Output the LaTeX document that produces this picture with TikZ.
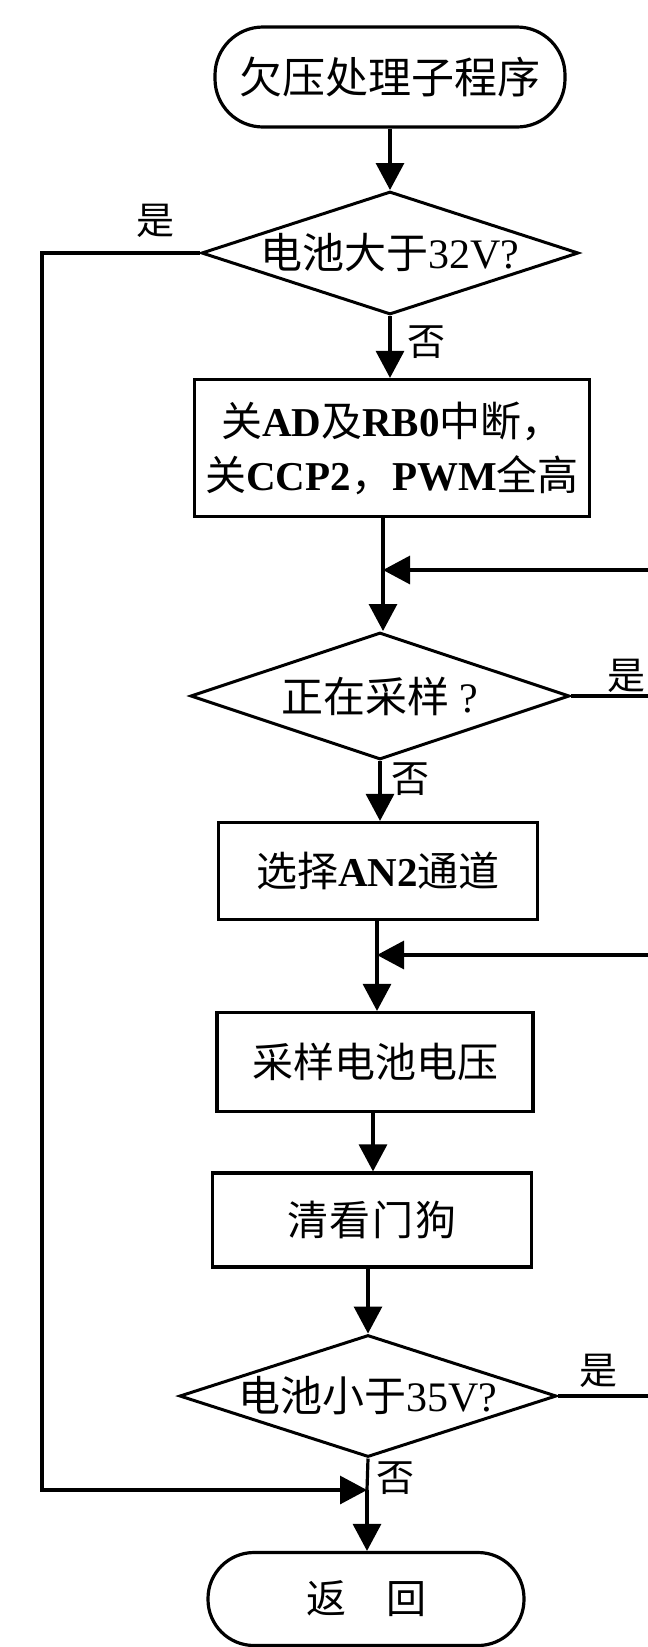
\documentclass[tikz,border=0pt]{standalone}
\usepackage{fontspec}
\setmainfont{Noto Sans CJK SC}
\newfontfamily\lat{Liberation Serif}
\usetikzlibrary{shapes.geometric,arrows.meta}
\begin{document}
\begin{tikzpicture}[x=1pt,y=-1pt,
  ln/.style={line width=3.2pt},
  arr/.style={line width=3.2pt,-{Triangle[length=27pt,width=28pt]}},
  term/.style={draw,line width=3.2pt,rectangle,inner sep=0pt},
  proc/.style={draw,line width=3.2pt,rectangle,inner sep=0pt,align=center,font=\fontsize{41}{54}\selectfont},
  dec/.style={draw,diamond,line width=3pt,inner sep=0pt},
  dtxt/.style={font=\fontsize{42}{46}\selectfont,inner sep=0pt},
  lbl/.style={font=\fontsize{38}{40}\selectfont,inner sep=0pt}]
\useasboundingbox (0,0) rectangle (648,1647);
\clip (0,0) rectangle (648,1647);
\fill[white] (0,0) rectangle (648,1647);
% nodes
\node[term,rounded corners=48pt,minimum width=350pt,minimum height=100pt,font=\fontsize{43}{46}\selectfont] (start) at (390,77) {欠压处理子程序};
\node[dec,minimum width=377pt,minimum height=123pt,label={[dtxt]center:电池大于{\lat 32V?}}] (d1) at (390,253) {};
\node[proc,minimum width=395pt,minimum height=137pt] (b1) at (392,448) {关{\lat\bfseries AD}及{\lat\bfseries RB0}中断，\\关{\lat\bfseries CCP2}，{\lat\bfseries PWM}全高};
\coordinate (m1) at (383,570);
\node[dec,minimum width=379pt,minimum height=127pt,label={[dtxt]center:正在采样{\lat~?}}] (d2) at (380,696) {};
\node[proc,minimum width=319pt,minimum height=97pt] (b2) at (378,871) {选择{\lat\bfseries AN2}通道};
\coordinate (m2) at (377,955);
\node[proc,minimum width=316pt,minimum height=99pt] (b3) at (375,1062) {采样电池电压};
\node[proc,minimum width=319pt,minimum height=94pt] (b4) at (372,1220) {清\hspace{2pt}看\hspace{2pt}门\hspace{2pt}狗};
\node[dec,minimum width=377pt,minimum height=122pt,label={[dtxt]center:电池小于{\lat 35V?}}] (d3) at (368,1396) {};
\coordinate (m3) at (367,1490);
\node[term,rounded corners=46pt,minimum width=316pt,minimum height=93pt,font=\fontsize{40}{44}\selectfont] (end) at (366,1599) {返\hspace{40pt}回};
% connectors
\draw[arr] (start.south -| d1.north) -- (d1.north);
\draw[arr] (d1.south) -- (d1.south |- b1.north);
\draw[ln] (b1.south -| m1) -- (m1);
\draw[arr] (m1) -- (m1 |- d2.north);
\draw[arr] (d2.south) -- (d2.south |- b2.north);
\draw[ln] (b2.south -| m2) -- (m2);
\draw[arr] (m2) -- (m2 |- b3.north);
\draw[arr] (b3.south -| 373,0) -- (373,0 |- b4.north);
\draw[arr] (b4.south -| d3.north) -- (d3.north);
\draw[ln] (d3.south) -- (m3);
\draw[arr] (m3) -- (m3 |- end.north);
% loops
\draw[arr] (d2.east) -- (700,696) |- (m1);
\draw[arr] (d3.east) -- (700,1396) |- (m2);
\draw[arr] (d1.west) -| (42,1490) -- (m3);
% labels
\node[lbl] (y1) at (155,221) {是};
\node[lbl] (n1) at (426,342) {否};
\node[lbl] (y2) at (626,676) {是};
\node[lbl] (n2) at (410,779) {否};
\node[lbl] (y3) at (598,1371) {是};
\node[lbl] (n3) at (395,1478) {否};
\end{tikzpicture}
\end{document}
